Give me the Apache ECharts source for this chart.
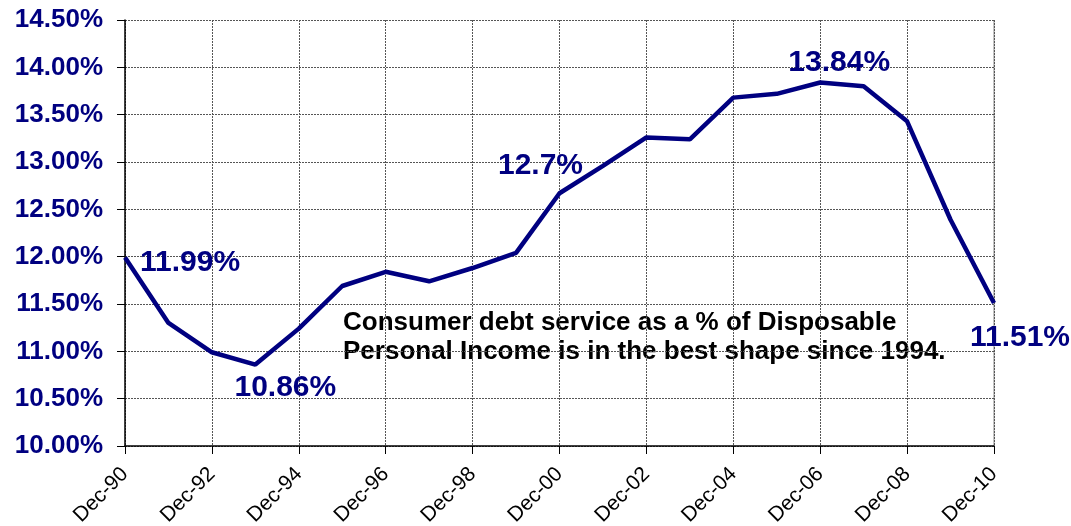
<!DOCTYPE html>
<html><head><meta charset="utf-8">
<script src="https://cdn.jsdelivr.net/npm/echarts@6/dist/echarts.min.js"></script>
<style>html,body{margin:0;padding:0;background:#fff}#c{width:1071px;height:526px}</style>
</head><body><div id="c"></div>
<script>
const categories = ['Dec-90','Dec-91','Dec-92','Dec-93','Dec-94','Dec-95','Dec-96','Dec-97','Dec-98','Dec-99','Dec-00','Dec-01','Dec-02','Dec-03','Dec-04','Dec-05','Dec-06','Dec-07','Dec-08','Dec-09','Dec-10'];
const debtService = [11.99,11.30,10.99,10.86,11.24,11.69,11.84,11.74,11.88,12.04,12.67,12.96,13.26,13.24,13.68,13.72,13.84,13.80,13.43,12.39,11.51];
const pointLabels = {0:'11.99%',3:'10.86%',10:'12.7%',16:'13.84%',20:'11.51%'};
const yTicks = {min:10, max:14.5, interval:0.5};
const annotation = ['Consumer debt service as a % of Disposable','Personal Income is in the best shape since 1994.'];

const FONT = '"Liberation Sans", Arial, sans-serif';
const NAVY = '#000080';
const labelShift = {0:[10,5],3:[30,3],10:[-19,-8],16:[19,0],20:[26,15]};
const labelPos = {0:'right',3:'bottom',10:'top',16:'top',20:'bottom'};

const data = debtService.map((v,i)=>{
  if(pointLabels[i]===undefined) return v;
  return {value:v,label:{show:true,formatter:pointLabels[i],position:labelPos[i],
    color:NAVY,fontFamily:FONT,fontWeight:'bold',fontSize:30}};
});

const chart = echarts.init(document.getElementById('c'),null,{renderer:'canvas'});
chart.setOption({
  animation:false,
  backgroundColor:'#fff',
  grid:{left:125,right:77,top:20,bottom:80,containLabel:false,outerBoundsMode:'none'},
  xAxis:{type:'category',data:categories,boundaryGap:false,
    axisLine:{show:true,lineStyle:{color:'#000',width:1.5}},
    axisTick:{show:true,interval:1,length:8,lineStyle:{color:'#000'}},
    axisLabel:{interval:1,rotate:45,color:'#000',fontFamily:FONT,fontSize:21,margin:25},
    splitLine:{show:true,interval:1,lineStyle:{color:'#555',type:[2,1],width:1}}},
  yAxis:{type:'value',min:yTicks.min,max:yTicks.max,interval:yTicks.interval,
    axisLine:{show:true,lineStyle:{color:'#000',width:1.5}},
    axisTick:{show:true,length:8,lineStyle:{color:'#000'}},
    axisLabel:{color:NAVY,fontFamily:FONT,fontWeight:'bold',fontSize:26,margin:22,
      formatter:v=>v.toFixed(2)+'%'},
    splitLine:{show:true,lineStyle:{color:'#555',type:[2,1],width:1}}},
  graphic:[{type:'text',left:343,top:308,style:{text:annotation.join('\n'),fill:'#000',
    font:'bold 26px '+FONT,lineHeight:29}},
    {type:'line',shape:{x1:994,y1:20,x2:994,y2:446},style:{stroke:'#888',lineWidth:1}}],
  series:[{type:'line',data:data,showSymbol:true,symbol:'circle',symbolSize:0.01,
    lineStyle:{color:NAVY,width:4.5},itemStyle:{color:NAVY},
    labelLayout:function(p){const s=labelShift[p.dataIndex]||[0,0];return {dx:s[0],dy:s[1],hideOverlap:false};}}]
});
</script></body></html>
